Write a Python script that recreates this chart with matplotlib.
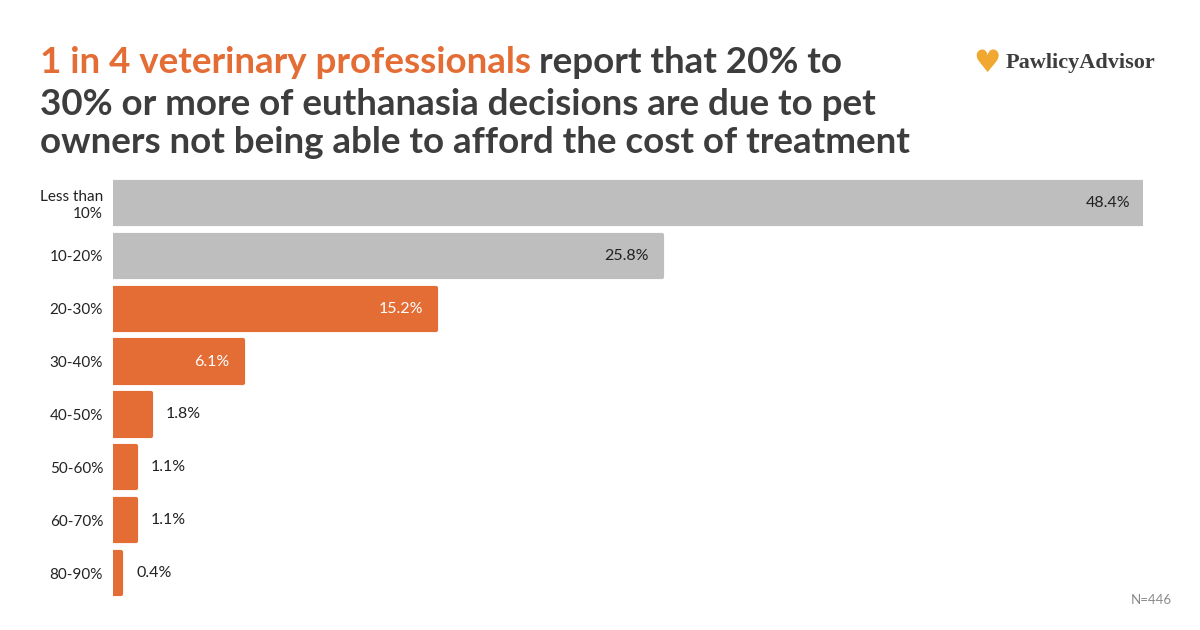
import matplotlib.pyplot as plt

categories = ['Less than\n10%', '10-20%', '20-30%', '30-40%', '40-50%', '50-60%', '60-70%', '80-90%']
values = [48.4, 25.8, 15.2, 6.1, 1.8, 1.1, 1.1, 0.4]
highlight = [False, False, True, True, True, True, True, True]

ORANGE = '#e46d35'
GRAY = '#bebebe'
DARK = '#3d3d3d'
FONT = 'Lato'

fig = plt.figure(figsize=(12, 6.3), dpi=100)
ax = fig.add_axes([0.094, 0.0484, 0.8583, 0.6714])

colors = [ORANGE if h else GRAY for h in highlight]
ypos = list(range(len(categories)))
ax.barh(ypos, values, height=0.8, color=colors, edgecolor=colors,
        linewidth=3, joinstyle='round')
ax.set_xlim(0, max(values))
ax.set_ylim(len(categories) - 0.5, -0.5)
ax.set_yticks(ypos)
ax.set_yticklabels(categories, fontsize=11, family=FONT, color='#222222',
                   linespacing=1.2)
ax.tick_params(axis='y', length=0, pad=7)
ax.set_xticks([])
for s in ax.spines.values():
    s.set_visible(False)

for y, v, h in zip(ypos, values, highlight):
    if v > 5:
        ax.text(v - 0.6, y, f'{v}%', ha='right', va='center', fontsize=11.5,
                family=FONT, color='white' if h else '#222222')
    else:
        ax.text(v + 0.7, y, f'{v}%', ha='left', va='center', fontsize=11.5,
                family=FONT, color='#222222')

# title, first line in two colours
TS = 26.5
t1 = fig.text(40 / 1200, 1 - 73 / 630, '1 in 4 veterinary professionals', fontsize=TS,
              fontweight='bold', family=FONT, color=ORANGE)
fig.canvas.draw()
bb = t1.get_window_extent()
fig.text(bb.x1 / 1200 + 0.007, 1 - 73 / 630, 'report that 20% to', fontsize=TS,
         fontweight='bold', family=FONT, color=DARK)
fig.text(40 / 1200, 1 - 115 / 630, '30% or more of euthanasia decisions are due to pet',
         fontsize=TS, fontweight='bold', family=FONT, color=DARK)
fig.text(40 / 1200, 1 - 153 / 630, 'owners not being able to afford the cost of treatment',
         fontsize=TS, fontweight='bold', family=FONT, color=DARK)

# logo
fig.text(987 / 1200, 1 - 63 / 630, '\u2665', fontsize=22, color='#f0a830',
         ha='center', va='center', family='DejaVu Sans')
fig.text(1155 / 1200, 1 - 63 / 630, 'PawlicyAdvisor', fontsize=16, color=DARK,
         ha='right', va='center', family='Liberation Serif', fontweight='bold')

fig.text(1172 / 1200, 1 - 600 / 630, 'N=446', fontsize=9.5, color='#8a8a8a',
         ha='right', va='center', family=FONT)

fig.savefig('out.png', dpi=100, facecolor='white')
